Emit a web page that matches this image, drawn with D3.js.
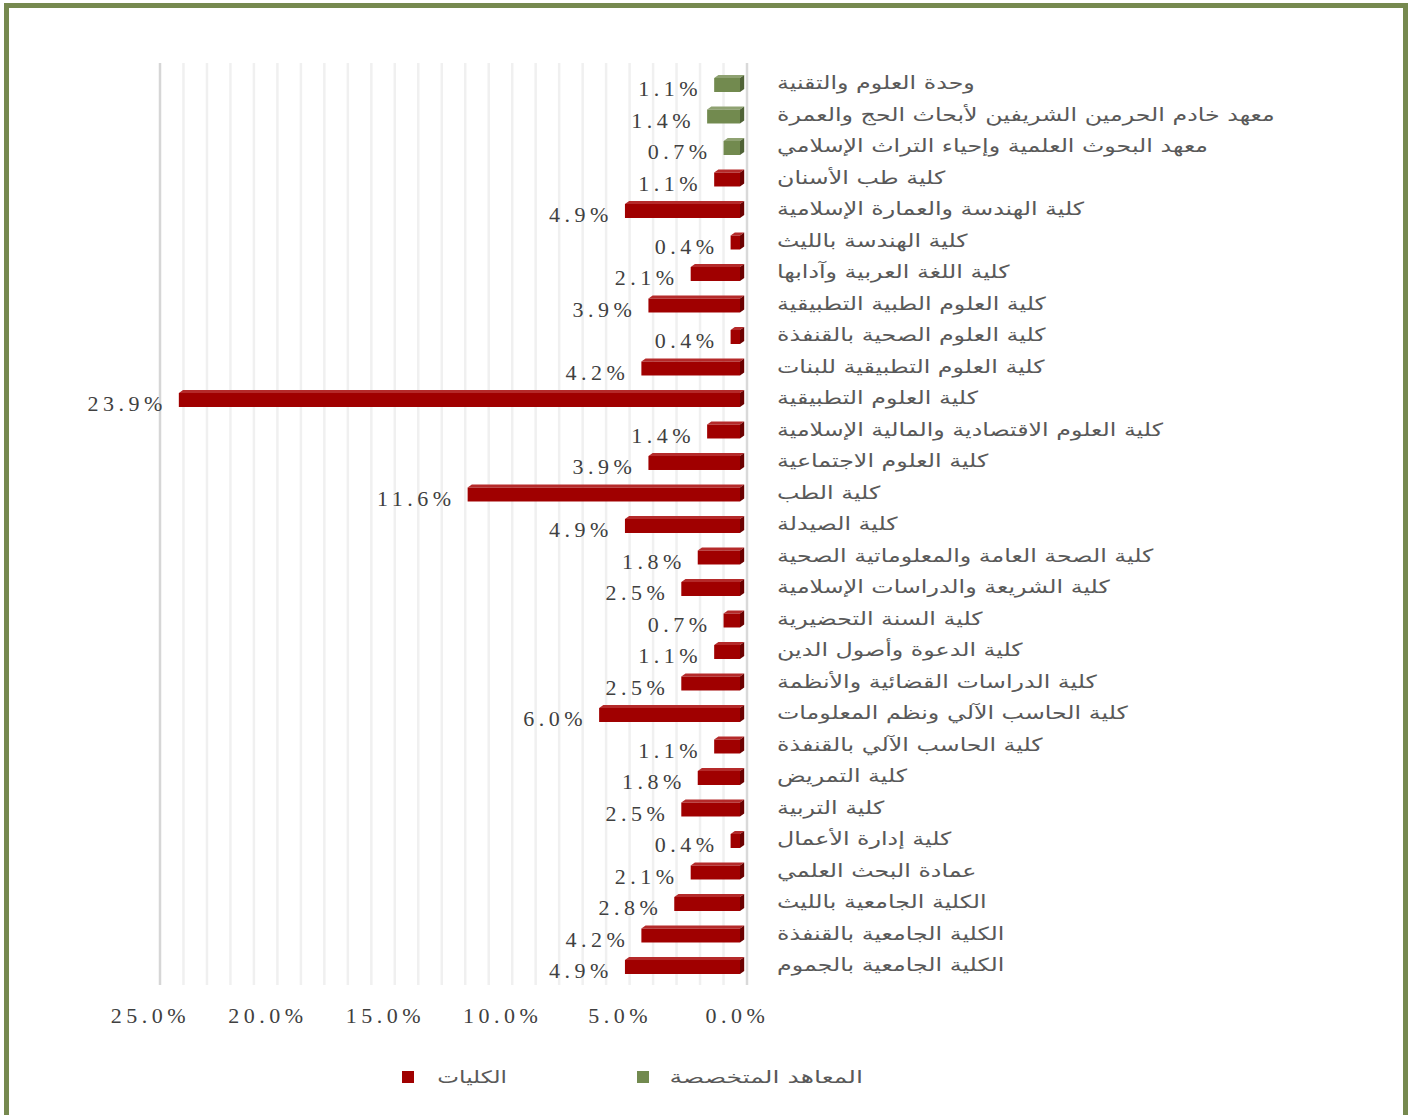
<!DOCTYPE html>
<html>
<head>
<meta charset="utf-8">
<script src="https://cdn.jsdelivr.net/npm/d3@7"></script>
<style>
  html, body { margin: 0; padding: 0; background: #ffffff; }
  svg { display: block; }
</style>
</head>
<body>
<svg id="chart" width="1413" height="1115"></svg>
<script>
// ---- Data (top to bottom as in the reference) ----
const categories = [
  "وحدة العلوم والتقنية",
  "معهد خادم الحرمين الشريفين لأبحاث الحج والعمرة",
  "معهد البحوث العلمية وإحياء التراث الإسلامي",
  "كلية طب الأسنان",
  "كلية الهندسة والعمارة الإسلامية",
  "كلية الهندسة بالليث",
  "كلية اللغة العربية وآدابها",
  "كلية العلوم الطبية التطبيقية",
  "كلية العلوم الصحية بالقنفذة",
  "كلية العلوم التطبيقية للبنات",
  "كلية العلوم التطبيقية",
  "كلية العلوم الاقتصادية والمالية الإسلامية",
  "كلية العلوم الاجتماعية",
  "كلية الطب",
  "كلية الصيدلة",
  "كلية الصحة العامة والمعلوماتية الصحية",
  "كلية الشريعة والدراسات الإسلامية",
  "كلية السنة التحضيرية",
  "كلية الدعوة وأصول الدين",
  "كلية الدراسات القضائية والأنظمة",
  "كلية الحاسب الآلي ونظم المعلومات",
  "كلية الحاسب الآلي بالقنفذة",
  "كلية التمريض",
  "كلية التربية",
  "كلية إدارة الأعمال",
  "عمادة البحث العلمي",
  "الكلية الجامعية بالليث",
  "الكلية الجامعية بالقنفذة",
  "الكلية الجامعية بالجموم"
];
const values = [1.1, 1.4, 0.7, 1.1, 4.9, 0.4, 2.1, 3.9, 0.4, 4.2, 23.9, 1.4, 3.9, 11.6, 4.9,
                1.8, 2.5, 0.7, 1.1, 2.5, 6.0, 1.1, 1.8, 2.5, 0.4, 2.1, 2.8, 4.2, 4.9];
// series membership: 0 = المعاهد المتخصصة, 1 = الكليات
const seriesIndex = [0, 0, 0, 1, 1, 1, 1, 1, 1, 1, 1, 1, 1, 1, 1,
                     1, 1, 1, 1, 1, 1, 1, 1, 1, 1, 1, 1, 1, 1];
const seriesNames = ["المعاهد المتخصصة", "الكليات"];
const tickValues = [25, 20, 15, 10, 5, 0];

// ---- Styles ----
const seriesColors = ["#728a4f", "#a00000"];
const sideColors = ["#4f6236", "#6b0000"];
const topColors = ["#8fa272", "#b52a2a"];

const svg = d3.select("#chart");
const rows = categories.map((c, i) => ({ cat: c, v: values[i], s: seriesIndex[i] }));

// frame
svg.append("rect")
  .attr("x", 6.5).attr("y", 5.5)
  .attr("width", 1399).attr("height", 1120)
  .attr("fill", "#ffffff")
  .attr("stroke", "#76894f").attr("stroke-width", 5);

// scales
const x = d3.scaleLinear().domain([0, 25]).range([740, 153]);
const depthX = 7, depthY = -3;
const y = d3.scaleBand().domain(categories)
  .range([69.25, 982.75]).paddingInner(0.556).paddingOuter(0.278);

// gridlines (back plane) every 1%
const gridVals = d3.range(0, 26, 1);
svg.append("g").selectAll("line").data(gridVals).join("line")
  .attr("x1", d => x(d) + depthX).attr("x2", d => x(d) + depthX)
  .attr("y1", 63).attr("y2", 985)
  .attr("stroke", d => (d === 25 ? "#d6d6d6" : d === 0 ? "#d9d9d9" : "#f0f0f0"))
  .attr("stroke-width", 2.5);

// bars with a subtle 3D look
const bars = svg.append("g");
rows.forEach(d => {
  const y0 = y(d.cat), h = y.bandwidth();
  const xl = x(d.v), xr = x(0);
  const dx = depthX * 0.6;
  bars.append("path")
    .attr("d", `M${xl},${y0} L${xl + dx},${y0 + depthY} L${xr + dx},${y0 + depthY} L${xr},${y0} Z`)
    .attr("fill", topColors[d.s]);
  bars.append("path")
    .attr("d", `M${xr},${y0} L${xr + dx},${y0 + depthY} L${xr + dx},${y0 + h + depthY} L${xr},${y0 + h} Z`)
    .attr("fill", sideColors[d.s]);
  bars.append("rect")
    .attr("x", xl).attr("y", y0)
    .attr("width", xr - xl).attr("height", h)
    .attr("fill", seriesColors[d.s]);
});

// value labels
svg.append("g").selectAll("text").data(rows).join("text")
  .attr("x", d => x(d.v) - 12)
  .attr("y", d => y(d.cat) + y.bandwidth() / 2 + 11)
  .attr("text-anchor", "end")
  .attr("font-family", "'Liberation Serif', 'DejaVu Serif', serif")
  .attr("font-size", 22)
  .attr("letter-spacing", 4.5)
  .attr("fill", "#404040")
  .text(d => d.v.toFixed(1) + "%");

// category labels (horizontally stretched to match reference)
svg.append("g").selectAll("text").data(rows).join("text")
  .attr("transform", d => `translate(777, ${y(d.cat) + y.bandwidth() / 2 + 4}) scale(1.32, 1)`)
  .attr("direction", "rtl")
  .attr("text-anchor", "end")
  .attr("font-family", "'DejaVu Sans', 'Noto Sans', sans-serif")
  .attr("font-size", 18)
  .attr("fill", "#595959")
  .text(d => d.cat);

// x axis
const axis = d3.axisBottom(x)
  .tickValues(tickValues)
  .tickSize(0)
  .tickFormat(d => d.toFixed(1) + "%");
const gx = svg.append("g").attr("transform", "translate(-3, 1004)").call(axis);
gx.select(".domain").remove();
gx.selectAll("text")
  .attr("font-family", "'Liberation Serif', 'DejaVu Serif', serif")
  .attr("font-size", 22)
  .attr("letter-spacing", 4.5)
  .attr("fill", "#404040");

// legend
const legendItems = [
  { name: seriesNames[1], color: seriesColors[1], sx: 402, tx: 507, sc: 1.36 },
  { name: seriesNames[0], color: seriesColors[0], sx: 637, tx: 863, sc: 1.48 }
];
const lg = svg.append("g");
legendItems.forEach(it => {
  lg.append("rect").attr("x", it.sx).attr("y", 1071).attr("width", 12).attr("height", 12)
    .attr("fill", it.color);
  lg.append("text")
    .attr("transform", `translate(${it.tx}, 1083) scale(${it.sc}, 1)`)
    .attr("direction", "rtl").attr("text-anchor", "start")
    .attr("font-family", "'DejaVu Sans', 'Noto Sans', sans-serif")
    .attr("font-size", 17).attr("fill", "#595959")
    .text(it.name);
});
</script>
</body>
</html>
